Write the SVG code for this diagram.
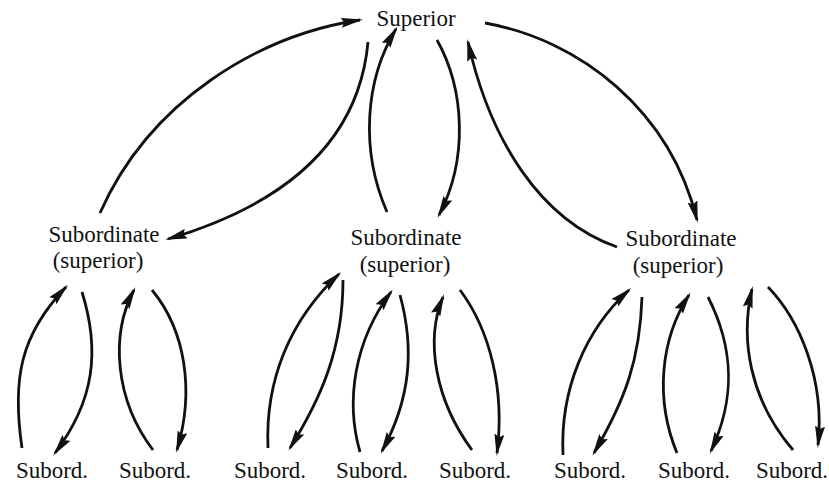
<svg xmlns="http://www.w3.org/2000/svg" width="829" height="487" viewBox="0 0 829 487">
<style>
text{font-family:"Liberation Serif",Times,"Times New Roman","DejaVu Serif",serif;font-size:23px;fill:#111;text-anchor:middle}
.c{fill:none;stroke:#111;stroke-width:2.8;marker-end:url(#ah)}
</style>
<defs>
<marker id="ah" markerUnits="userSpaceOnUse" markerWidth="24" markerHeight="10" refX="19" refY="5" orient="auto">
<path d="M0,0 L22,5 L0,10 L3,5 z" fill="#111"/>
</marker>
</defs>
<rect width="829" height="487" fill="#fff"/>
<g id="superior"><text x="416" y="26">Superior</text></g>
<g id="sub-left"><text x="104" y="242">Subordinate</text><text x="98" y="268">(superior)</text></g>
<g id="sub-mid"><text x="406" y="245">Subordinate</text><text x="405" y="272">(superior)</text></g>
<g id="sub-right"><text x="681" y="246">Subordinate</text><text x="678" y="273">(superior)</text></g>
<g id="s1"><text x="52" y="478">Subord.</text></g>
<g id="s2"><text x="155" y="478">Subord.</text></g>
<g id="s3"><text x="270" y="478">Subord.</text></g>
<g id="s4"><text x="372" y="478">Subord.</text></g>
<g id="s5"><text x="475" y="478">Subord.</text></g>
<g id="s6"><text x="590" y="478">Subord.</text></g>
<g id="s7"><text x="694" y="478">Subord.</text></g>
<g id="s8"><text x="792" y="478">Subord.</text></g>
<g id="connectors">
<path class="c" d="M100,213 C150,100 260,35 360,20"/>
<path class="c" d="M368,42 C360,130 300,200 168,239"/>
<path class="c" d="M387,212 C360,150 365,80 396,29"/>
<path class="c" d="M437,40 C465,90 468,160 439,215"/>
<path class="c" d="M617,247 C540,220 490,140 468,42"/>
<path class="c" d="M485,23 C580,40 670,110 697,220"/>
<path class="c" d="M22,448 C12,380 20,335 66,287"/>
<path class="c" d="M82,292 C100,350 95,400 55,453"/>
<path class="c" d="M153,450 C115,400 110,335 134,290"/>
<path class="c" d="M152,290 C185,330 195,390 177,450"/>
<path class="c" d="M268,448 C265,380 290,320 339,274"/>
<path class="c" d="M343,280 C343,350 320,400 290,448"/>
<path class="c" d="M360,452 C345,400 355,340 391,292"/>
<path class="c" d="M400,295 C415,350 410,400 382,451"/>
<path class="c" d="M472,450 C435,400 425,340 443,297"/>
<path class="c" d="M460,290 C490,330 505,390 497,453"/>
<path class="c" d="M563,455 C560,390 585,330 629,290"/>
<path class="c" d="M642,297 C640,360 625,400 594,453"/>
<path class="c" d="M677,453 C655,400 660,340 689,295"/>
<path class="c" d="M708,297 C735,350 735,400 711,451"/>
<path class="c" d="M793,450 C750,400 740,340 752,289"/>
<path class="c" d="M768,287 C800,320 825,380 818,445"/>
</g>
</svg>
